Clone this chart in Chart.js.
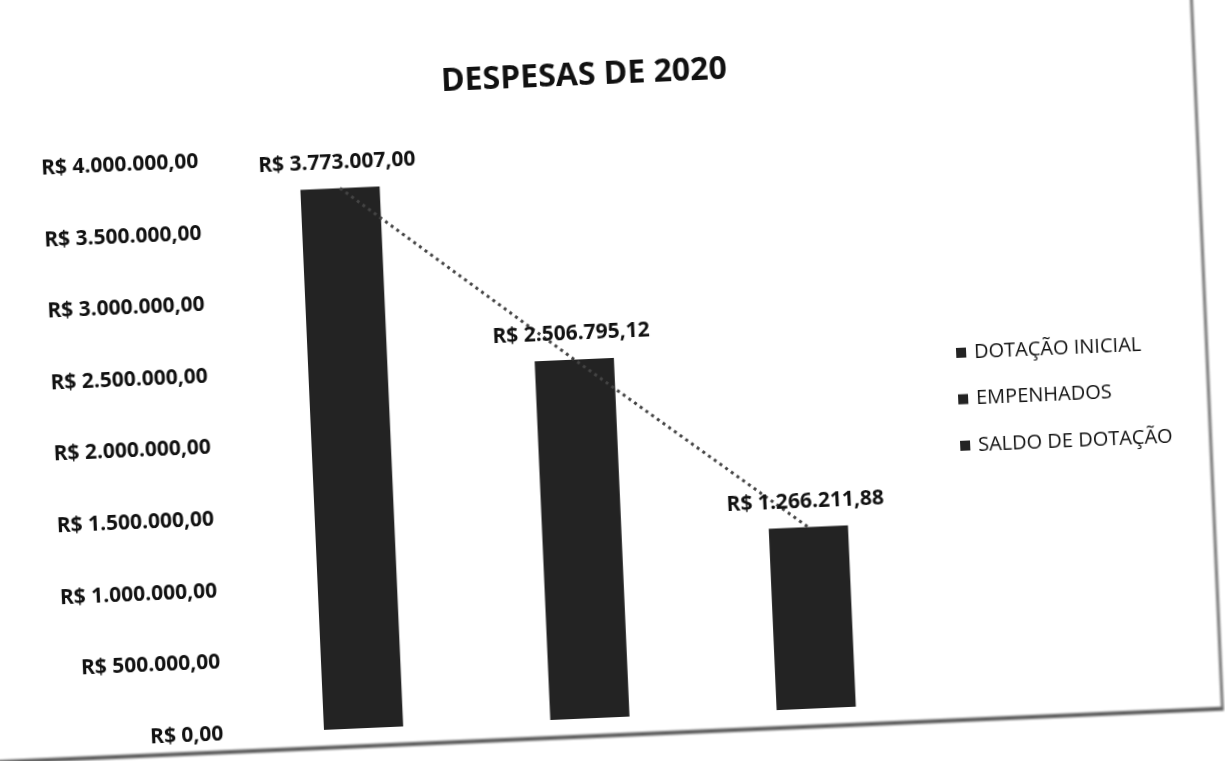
<!DOCTYPE html>
<html><head><meta charset="utf-8">
<script src="https://cdn.jsdelivr.net/npm/chart.js@4"></script>
<style>
html,body{margin:0;padding:0;background:#fff;overflow:hidden;}
#wrap{position:relative;width:1225px;height:761px;transform:rotate(-2.5deg);transform-origin:612px 380px;}
#paper{position:absolute;left:-60px;top:-60px;width:1266px;height:793px;border-right:3px solid #777;border-bottom:4px solid #5a5a5a;filter:blur(0.8px);}
#c{position:absolute;left:0;top:0;}
</style>
</head><body><div id="wrap"><div id="paper"></div><canvas id="c"></canvas></div>
<script>
const categories = ['DOTAÇÃO INICIAL', 'EMPENHADOS', 'SALDO DE DOTAÇÃO'];
const values = [3773007.00, 2506795.12, 1266211.88];
const yTicks = [0, 500000, 1000000, 1500000, 2000000, 2500000, 3000000, 3500000, 4000000];
const chartTitle = 'DESPESAS DE 2020';
const barColor = '#232323';
const FONT = '"Open Sans", Lato, sans-serif';

function brl(v){
  const parts = v.toFixed(2).split('.');
  const int = parts[0].replace(/\B(?=(\d{3})+(?!\d))/g, '.');
  return 'R$ ' + int + ',' + parts[1];
}

const datasets = categories.map((name, i) => ({
  type: 'bar',
  label: name,
  data: categories.map((_, j) => j === i ? values[i] : null),
  backgroundColor: barColor,
  borderWidth: 0,
  barPercentage: 0.35,
  categoryPercentage: 1,
  skipNull: true,
  order: 2
}));
datasets.push({
  type: 'line',
  label: 'trend',
  data: values.slice(),
  borderColor: '#444',
  borderWidth: 3,
  borderDash: [3, 4],
  pointRadius: 0,
  fill: false,
  order: 1
});

const labelPlugin = {
  id: 'valueLabels',
  afterDatasetsDraw(chart){
    const ctx = chart.ctx;
    ctx.save();
    ctx.font = 'bold 21px ' + FONT;
    ctx.fillStyle = '#111';
    ctx.textAlign = 'center';
    ctx.textBaseline = 'middle';
    categories.forEach((_, i) => {
      const el = chart.getDatasetMeta(i).data[i];
      ctx.fillText(brl(values[i]), el.x - 2, el.y - 26);
    });
    ctx.restore();
  }
};

const titlePlugin = {
  id: 'offsetTitle',
  afterDraw(chart){
    const ctx = chart.ctx;
    ctx.save();
    ctx.font = 'bold 32px ' + FONT;
    ctx.fillStyle = '#111';
    ctx.textAlign = 'center';
    ctx.textBaseline = 'middle';
    ctx.fillText(chartTitle, (chart.chartArea.left + chart.chartArea.right) / 2 + 22, 75);
    ctx.restore();
  }
};

const legendPlugin = {
  id: 'sideLegend',
  afterDraw(chart){
    const ctx = chart.ctx;
    const area = chart.chartArea;
    const items = chart.data.datasets.filter(d => d.label !== 'trend');
    const x0 = area.right + 42;
    const mid = (area.top + area.bottom) / 2;
    const step = 46.5;
    const y0 = mid - 16 - step;
    ctx.save();
    ctx.font = '20px ' + FONT;
    ctx.textAlign = 'left';
    ctx.textBaseline = 'middle';
    items.forEach((d, i) => {
      const y = y0 + i * step;
      ctx.fillStyle = d.backgroundColor;
      ctx.fillRect(x0, y - 5, 10, 10);
      ctx.fillStyle = '#111';
      ctx.fillText(d.label, x0 + 18, y);
    });
    ctx.restore();
  }
};

new Chart(document.getElementById('c'), {
  data: { labels: categories, datasets },
  options: {
    responsive: true,
    maintainAspectRatio: false,
    animation: false,
    layout: { padding: { left: 32, right: 310, top: 144, bottom: 36 } },
    plugins: {
      title: { display: false },
      legend: { display: false },
      tooltip: { enabled: false }
    },
    scales: {
      x: {
        grid: { display: false },
        border: { display: false },
        ticks: { display: false }
      },
      y: {
        min: 0, max: 4000000,
        afterBuildTicks: (axis) => { axis.ticks = yTicks.map(v => ({ value: v })); },
        grid: { display: false },
        border: { display: false },
        ticks: {
          padding: 19,
          color: '#111',
          font: { family: FONT, size: 21, weight: 'bold' },
          callback: (v) => brl(v)
        }
      }
    }
  },
  plugins: [labelPlugin, titlePlugin, legendPlugin]
});
</script>
</body></html>
